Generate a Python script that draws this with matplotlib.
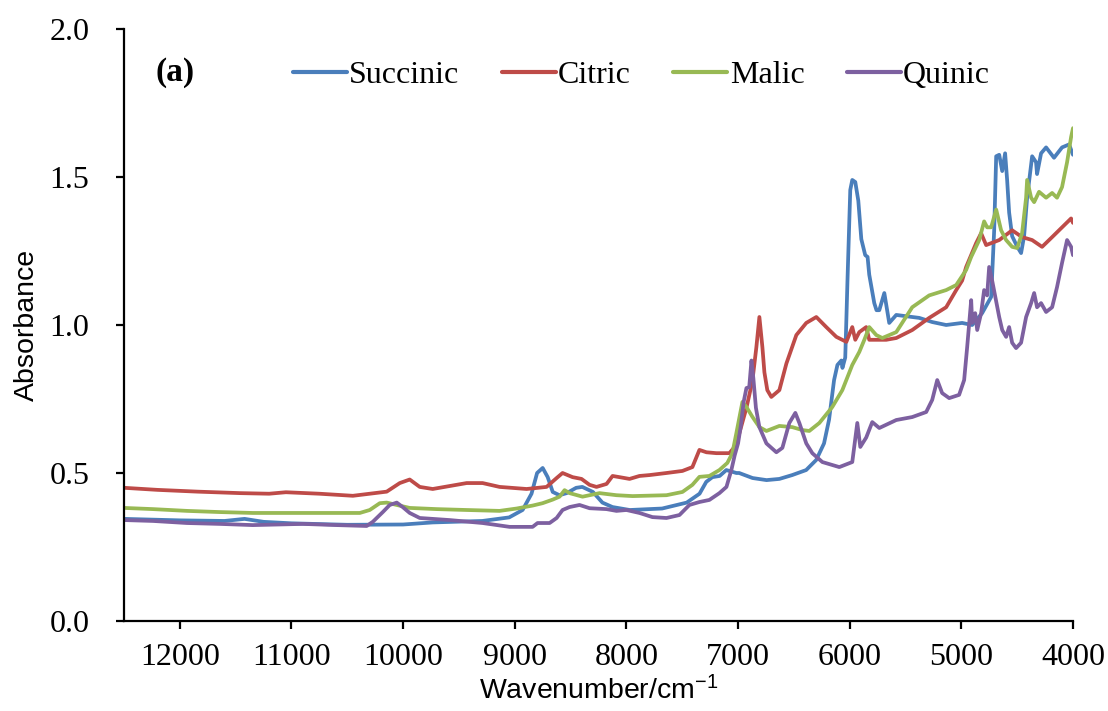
import matplotlib
matplotlib.use("Agg")
import matplotlib.pyplot as plt

plt.rcParams["mathtext.default"] = "regular"

# NIR absorbance spectra (wavenumber in cm-1, absorbance)
succinic_wn = [12500, 12000, 11600, 11420, 11250, 11000, 10500, 10000, 9735, 9290,
               9050, 8930, 8850, 8800, 8750, 8705, 8660, 8600, 8535, 8450,
               8395, 8300, 8215, 8125, 7970, 7680, 7460, 7345, 7285, 7230,
               7165, 7105, 7015, 6990, 6870, 6745, 6630, 6515, 6390, 6300,
               6230, 6185, 6140, 6110, 6075, 6065, 6040, 6030, 6020, 5995,
               5977, 5950, 5923, 5896, 5861, 5840, 5825, 5780, 5760, 5735,
               5690, 5646, 5583, 5440, 5377, 5261, 5136, 4993, 4903, 4814,
               4733, 4706, 4688, 4661, 4634, 4608, 4590, 4572, 4545, 4500,
               4465, 4438, 4411, 4366, 4331, 4322, 4286, 4241, 4170, 4098,
               4035, 4000]
succinic_abs = [0.345, 0.340, 0.338, 0.345, 0.335, 0.330, 0.325, 0.326, 0.333, 0.338,
                0.350, 0.375, 0.430, 0.500, 0.517, 0.486, 0.436, 0.425, 0.432, 0.450,
                0.453, 0.436, 0.400, 0.385, 0.375, 0.380, 0.400, 0.430, 0.470, 0.486,
                0.490, 0.510, 0.500, 0.500, 0.483, 0.476, 0.480, 0.493, 0.510, 0.544,
                0.600, 0.680, 0.814, 0.865, 0.880, 0.855, 0.890, 1.017, 1.150, 1.456,
                1.490, 1.483, 1.420, 1.290, 1.236, 1.230, 1.170, 1.074, 1.050, 1.050,
                1.108, 1.007, 1.034, 1.027, 1.024, 1.010, 1.000, 1.007, 1.000, 1.040,
                1.095, 1.320, 1.570, 1.575, 1.520, 1.580, 1.490, 1.380, 1.300, 1.265,
                1.243, 1.300, 1.430, 1.570, 1.550, 1.510, 1.580, 1.600, 1.565, 1.600,
                1.610, 1.575]

citric_wn = [12500, 12200, 11840, 11460, 11200, 11050, 10750, 10450, 10147, 10030,
             9941, 9851, 9735, 9431, 9288, 9136, 8894, 8715, 8625, 8572,
             8482, 8402, 8330, 8268, 8178, 8124, 8062, 7972, 7883, 7793,
             7641, 7498, 7409, 7346, 7283, 7194, 7078, 7015, 6988, 6925,
             6872, 6836, 6809, 6782, 6764, 6738, 6702, 6630, 6567, 6478,
             6389, 6299, 6210, 6120, 6030, 5977, 5950, 5914, 5852, 5825,
             5673, 5583, 5440, 5288, 5136, 5046, 4993, 4957, 4867, 4823,
             4778, 4661, 4545, 4456, 4366, 4277, 4187, 4098, 4017, 4000]
citric_abs = [0.450, 0.443, 0.437, 0.432, 0.430, 0.435, 0.430, 0.423, 0.437, 0.466,
              0.478, 0.453, 0.446, 0.466, 0.466, 0.453, 0.446, 0.453, 0.483, 0.500,
              0.486, 0.480, 0.460, 0.453, 0.463, 0.490, 0.486, 0.480, 0.490, 0.493,
              0.500, 0.507, 0.520, 0.578, 0.570, 0.567, 0.567, 0.595, 0.635, 0.720,
              0.810, 0.925, 1.027, 0.925, 0.840, 0.780, 0.757, 0.780, 0.870, 0.966,
              1.007, 1.027, 0.993, 0.960, 0.943, 0.993, 0.950, 0.976, 0.993, 0.950,
              0.950, 0.956, 0.983, 1.024, 1.060, 1.118, 1.150, 1.196, 1.277, 1.310,
              1.270, 1.287, 1.320, 1.297, 1.287, 1.264, 1.297, 1.330, 1.360, 1.345]

malic_wn = [12500, 12240, 11936, 11641, 11346, 10898, 10594, 10388, 10299, 10209,
            10147, 10057, 9941, 9699, 9431, 9136, 8983, 8840, 8751, 8661,
            8599, 8554, 8509, 8393, 8241, 8089, 7945, 7641, 7498, 7409,
            7346, 7257, 7167, 7096, 7051, 7015, 6961, 6925, 6872, 6809,
            6746, 6630, 6514, 6424, 6362, 6272, 6156, 6066, 5977, 5914,
            5869, 5825, 5762, 5708, 5583, 5440, 5288, 5136, 5046, 4957,
            4912, 4840, 4796, 4769, 4733, 4688, 4644, 4599, 4545, 4500,
            4456, 4420, 4411, 4375, 4348, 4304, 4241, 4187, 4143, 4098,
            4053, 4017, 4000]
malic_abs = [0.382, 0.378, 0.372, 0.368, 0.365, 0.365, 0.365, 0.365, 0.375, 0.398,
             0.400, 0.392, 0.382, 0.378, 0.375, 0.372, 0.380, 0.390, 0.398, 0.410,
             0.420, 0.442, 0.432, 0.420, 0.432, 0.425, 0.422, 0.425, 0.436, 0.460,
             0.487, 0.490, 0.510, 0.534, 0.567, 0.635, 0.740, 0.723, 0.690, 0.655,
             0.642, 0.659, 0.655, 0.645, 0.642, 0.669, 0.723, 0.780, 0.865, 0.909,
             0.950, 0.993, 0.966, 0.956, 0.976, 1.060, 1.100, 1.118, 1.135, 1.186,
             1.230, 1.287, 1.350, 1.330, 1.330, 1.390, 1.320, 1.287, 1.264, 1.260,
             1.310, 1.430, 1.490, 1.430, 1.415, 1.450, 1.430, 1.446, 1.430, 1.466,
             1.550, 1.635, 1.665]

quinic_wn = [12500, 12240, 11936, 11641, 11346, 10898, 10594, 10326, 10272, 10182,
             10120, 10057, 10004, 9941, 9851, 9583, 9288, 9046, 8840, 8796,
             8688, 8625, 8572, 8509, 8420, 8330, 8178, 8089, 8000, 7883,
             7767, 7641, 7525, 7436, 7346, 7257, 7167, 7104, 7060, 7030,
             7000, 6975, 6950, 6925, 6900, 6880, 6863, 6840, 6809, 6746,
             6657, 6603, 6541, 6487, 6451, 6389, 6335, 6245, 6093, 5977,
             5932, 5905, 5852, 5798, 5735, 5583, 5440, 5315, 5261, 5216,
             5172, 5109, 5020, 4975, 4948, 4912, 4903, 4876, 4858, 4823,
             4796, 4769, 4751, 4724, 4661, 4634, 4599, 4572, 4545, 4510,
             4465, 4420, 4375, 4348, 4322, 4286, 4241, 4187, 4143, 4098,
             4053, 4017, 4000]
quinic_abs = [0.341, 0.338, 0.331, 0.328, 0.324, 0.328, 0.324, 0.321, 0.335, 0.368,
              0.392, 0.400, 0.385, 0.365, 0.348, 0.341, 0.331, 0.318, 0.318, 0.331,
              0.331, 0.348, 0.375, 0.385, 0.392, 0.381, 0.378, 0.372, 0.375, 0.365,
              0.351, 0.348, 0.358, 0.392, 0.402, 0.409, 0.432, 0.453, 0.510, 0.560,
              0.600, 0.660, 0.740, 0.787, 0.790, 0.880, 0.820, 0.720, 0.655, 0.600,
              0.570, 0.585, 0.669, 0.703, 0.669, 0.600, 0.567, 0.537, 0.520, 0.537,
              0.669, 0.588, 0.620, 0.672, 0.652, 0.679, 0.689, 0.706, 0.747, 0.814,
              0.770, 0.753, 0.764, 0.814, 0.925, 1.084, 1.007, 1.040, 0.983, 1.040,
              1.118, 1.100, 1.196, 1.150, 1.027, 0.983, 0.960, 0.993, 0.940, 0.922,
              0.940, 1.027, 1.074, 1.108, 1.060, 1.074, 1.044, 1.060, 1.128, 1.210,
              1.287, 1.264, 1.236]

series = [
    ("Succinic", succinic_wn, succinic_abs, "#4A7EBB"),
    ("Citric", citric_wn, citric_abs, "#BE4B48"),
    ("Malic", malic_wn, malic_abs, "#98B954"),
    ("Quinic", quinic_wn, quinic_abs, "#7D60A0"),
]

serif = ["Liberation Serif", "DejaVu Serif"]
sans = ["Liberation Sans", "DejaVu Sans"]

fig = plt.figure(figsize=(11.08, 7.11), dpi=100)
ax = fig.add_axes([124 / 1108, 1 - 621 / 711, 949 / 1108, 592 / 711])

for name, wn, ab, color in series:
    ax.plot(wn, ab, color=color, lw=2.7, label=name,
            solid_joinstyle="round", solid_capstyle="round")

ax.set_xlim(12500, 4000)
ax.set_ylim(0, 2.0)
ax.set_xticks([12000, 11000, 10000, 9000, 8000, 7000, 6000, 5000, 4000])
ax.set_yticks([0.0, 0.5, 1.0, 1.5, 2.0])
ax.set_yticklabels(["0.0", "0.5", "1.0", "1.5", "2.0"])

for side in ("top", "right"):
    ax.spines[side].set_visible(False)
for side in ("left", "bottom"):
    ax.spines[side].set_linewidth(1.6)

ax.tick_params(axis="both", direction="out", length=6, width=1.6)
ax.tick_params(axis="y", pad=19)
ax.tick_params(axis="x", pad=10)
for lbl in ax.get_xticklabels() + ax.get_yticklabels():
    lbl.set_fontfamily(serif)
    lbl.set_fontsize(23)

ax.set_xlabel("Wavenumber/cm$^{-1}$", fontsize=20.5, family=sans, labelpad=3)
ax.set_ylabel("Absorbance", fontsize=20.5, family=sans, labelpad=7)

ax.text(0.033, 0.927, "(a)", transform=ax.transAxes, fontsize=24,
        fontweight="bold", family=serif, va="center", ha="left")

leg = ax.legend(loc="center left", bbox_to_anchor=(0.178, 0.922), ncol=4,
                frameon=False, handlelength=1.68, handletextpad=0.08,
                columnspacing=1.33, borderpad=0, borderaxespad=0,
                prop={"family": serif, "size": 23})
for h in leg.get_lines():
    h.set_linewidth(3.0)

fig.savefig("out.png", dpi=100)
